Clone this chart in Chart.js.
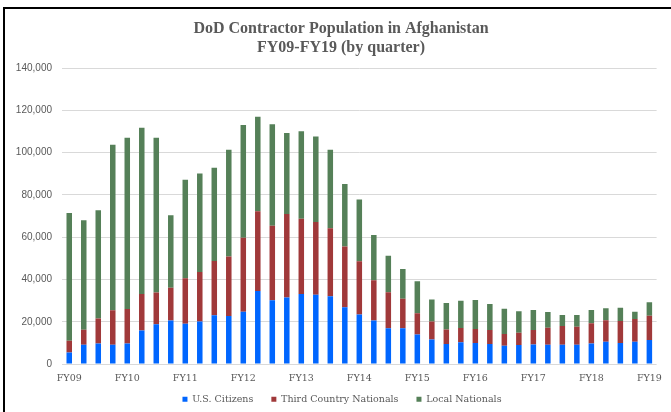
<!DOCTYPE html>
<html>
<head>
<meta charset="utf-8">
<script src="https://cdn.jsdelivr.net/npm/chart.js@4"></script>
<style>
  html, body { margin: 0; padding: 0; background: #fff; overflow: hidden; }
  #wrap { position: relative; width: 671px; height: 412px; }
  #frame { position: absolute; left: 3px; top: 7px; right: 0; bottom: 0;
           border-top: 2px solid #000; border-left: 2px solid #000; pointer-events: none; }
  canvas { position: absolute; left: 0; top: 0; }
</style>
</head>
<body>
<div id="wrap">
  <canvas id="c" width="671" height="412"></canvas>
  <div id="frame"></div>
</div>
<script>
// Fiscal years shown on the axis (one label per Q1)
const fiscalYears = ['FY09','FY10','FY11','FY12','FY13','FY14','FY15','FY16','FY17','FY18','FY19'];
const quarters = ['Q1','Q2','Q3','Q4'];
// Quarterly categories FY09 Q1 .. FY19 Q1
const categories = fiscalYears.flatMap(fy => quarters.map(q => fy + ' ' + q)).slice(0, 41);

const usCitizens = [5500, 9100, 9800, 9100, 9800, 15900, 18900, 20600, 19100, 20200,
  23100, 22800, 24800, 34600, 30200, 31500, 33200, 32800, 32100, 26900,
  23500, 20600, 17000, 17000, 14000, 11600, 9500, 10300, 10000, 9500,
  8700, 9000, 9300, 9200, 9200, 9200, 9800, 10600, 10000, 10600, 11400];

const thirdCountryNationals = [5500, 7100, 11800, 16400, 16300, 17300, 15000, 15500, 21500, 23400,
  25700, 28100, 35000, 37700, 35200, 39500, 35600, 34400, 32200, 28700,
  25200, 19100, 17000, 13900, 10100, 8500, 6900, 6800, 6600, 6600,
  5500, 5800, 6800, 8000, 8800, 8500, 9500, 10100, 10400, 10700, 11500];

const localNationals = [60500, 51800, 51200, 78300, 81000, 78600, 73200, 34300, 46600, 46500,
  44100, 50500, 53300, 44700, 48000, 38300, 41300, 40400, 37100, 29600,
  29100, 21400, 17200, 14100, 15100, 10400, 12500, 12900, 13700, 12300,
  12000, 10200, 9500, 7400, 5200, 5500, 6300, 5700, 6300, 3500, 6300];

const seriesNames = ['U.S. Citizens', 'Third Country Nationals', 'Local Nationals'];
const yTicks = [0, 20000, 40000, 60000, 80000, 100000, 120000, 140000];

const textGray = '#595959';
const serif = '"DejaVu Serif", serif';

// nudge the legend row and title after layout (keeps horizontal spacing)
const boxNudge = {
  id: 'boxNudge',
  afterLayout(chart) {
    if (chart.legend) {
      chart.legend.top -= 17; chart.legend.bottom -= 17;
      chart.legend.left += 6; chart.legend.right += 6;
    }
    if (chart.titleBlock) { chart.titleBlock.left += 5; chart.titleBlock.right += 5; }
  }
};

new Chart(document.getElementById('c'), {
  type: 'bar',
  data: {
    labels: categories,
    datasets: [
      { label: seriesNames[0], data: usCitizens, backgroundColor: '#0066FF' },
      { label: seriesNames[1], data: thirdCountryNationals, backgroundColor: '#A0393A' },
      { label: seriesNames[2], data: localNationals, backgroundColor: '#558058' }
    ]
  },
  plugins: [boxNudge],
  options: {
    responsive: false,
    animation: false,
    devicePixelRatio: 1,
    datasets: { bar: { barPercentage: 0.38, categoryPercentage: 1.0 } },
    layout: { padding: { top: 8, left: 14, right: 13, bottom: -19 } },
    plugins: {
      title: {
        display: true,
        text: ['DoD Contractor Population in Afghanistan', 'FY09-FY19 (by quarter)'],
        color: textGray,
        font: { family: '"Liberation Serif", "Times New Roman", serif', size: 16, weight: 'bold', lineHeight: 1.16 },
        padding: { top: 11.75, bottom: 11.25 }
      },
      legend: {
        position: 'bottom',
        labels: {
          color: textGray,
          font: { family: serif, size: 9.5 },
          boxWidth: 5, boxHeight: 5, padding: 18
        }
      },
      tooltip: { enabled: false }
    },
    scales: {
      x: {
        stacked: true,
        offset: true,
        grid: { display: false, drawTicks: false, tickLength: 0 },
        border: { display: false },
        ticks: {
          autoSkip: false, maxRotation: 0, minRotation: 0, padding: 9,
          color: textGray,
          font: { family: serif, size: 9.5 },
          callback: function (v, i) { return i % 4 === 0 ? fiscalYears[i / 4] : ''; }
        }
      },
      y: {
        stacked: true,
        min: 0, max: 140000,
        afterFit: function (s) { s.width = 48; },
        afterBuildTicks: function (s) { s.ticks = yTicks.map(v => ({ value: v })); },
        grid: { color: '#d9d9d9', lineWidth: 1, drawTicks: false },
        border: { display: false },
        ticks: {
          padding: 10,
          color: textGray,
          font: { family: '"Liberation Sans", Arial, sans-serif', size: 10 },
          callback: v => v.toLocaleString('en-US')
        }
      }
    }
  }
});
</script>
</body>
</html>
